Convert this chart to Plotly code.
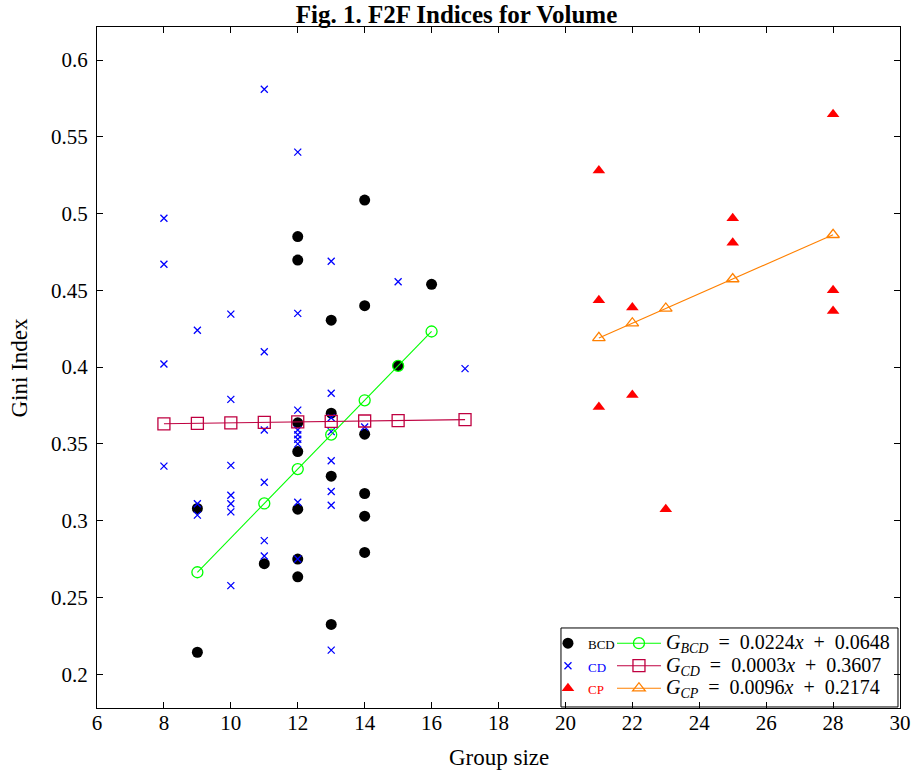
import plotly.graph_objects as go

# ---------------- data ----------------
bcd_x = [9, 9, 11, 12, 12, 12, 12, 12, 12, 12, 13, 13, 13, 13, 14, 14, 14, 14, 14, 14, 15, 16]
bcd_y = [0.308, 0.2143, 0.272, 0.485, 0.4697, 0.3637, 0.345, 0.3075, 0.275, 0.2634,
         0.4306, 0.370, 0.329, 0.2324, 0.5088, 0.440, 0.3563, 0.3177, 0.3029, 0.2793,
         0.4009, 0.4539]

cd_x = [8, 8, 8, 8, 9, 9, 9, 10, 10, 10, 10, 10, 10, 10,
        11, 11, 11, 11, 11, 11, 12, 12, 12, 12, 12, 12, 12, 12, 12,
        13, 13, 13, 13, 13, 13, 13, 13, 14, 15, 17]
cd_y = [0.497, 0.467, 0.402, 0.3355, 0.424, 0.311, 0.3036,
        0.4345, 0.379, 0.336, 0.3166, 0.311, 0.3057, 0.2577,
        0.581, 0.410, 0.359, 0.325, 0.287, 0.277,
        0.540, 0.435, 0.372, 0.359, 0.356, 0.353, 0.350, 0.312, 0.275,
        0.469, 0.383, 0.367, 0.358, 0.339, 0.319, 0.310, 0.2157,
        0.361, 0.4556, 0.399]

cp_x = [21, 21, 21, 22, 22, 23, 25, 25, 28, 28, 28]
cp_y = [0.528, 0.4436, 0.374, 0.4389, 0.3818, 0.3075, 0.497, 0.481, 0.5646, 0.450, 0.4365]

# fitted values
gbcd_x = [9, 11, 12, 13, 14, 15, 16]
gbcd_y = [0.2664, 0.3112, 0.3336, 0.356, 0.3784, 0.4008, 0.4232]
gcd_x = [8, 9, 10, 11, 12, 13, 14, 15, 17]
gcd_y = [0.3631, 0.3634, 0.3637, 0.364, 0.3643, 0.3646, 0.3649, 0.3652, 0.3658]
gcp_x = [21, 22, 23, 25, 28]
gcp_y = [0.419, 0.4286, 0.4382, 0.4574, 0.4862]

x_ticks = [6, 8, 10, 12, 14, 16, 18, 20, 22, 24, 26, 28, 30]
y_ticks = [0.2, 0.25, 0.3, 0.35, 0.4, 0.45, 0.5, 0.55, 0.6]
y_tick_labels = ["0.2", "0.25", "0.3", "0.35", "0.4", "0.45", "0.5", "0.55", "0.6"]

FONT = "Liberation Serif"
GREEN = "#00ff00"
PURPLE = "#bf0040"
ORANGE = "#ff8000"
S2 = "&nbsp;&nbsp;"


def eq_name(sub, slope, icpt):
    return (f'<span style="font-size:20px"><i>G</i><sub><i>{sub}</i></sub>'
            f'{S2}={S2}{slope}<i>x</i>{S2}+{S2}{icpt}</span>')


fig = go.Figure()

fig.add_trace(go.Scatter(
    x=bcd_x, y=bcd_y, mode="markers",
    name='<span style="font-size:13px">BCD</span>',
    marker=dict(symbol="circle", size=11, color="black"),
    legend="legend", legendrank=1))
fig.add_trace(go.Scatter(
    x=cd_x, y=cd_y, mode="markers",
    name='<span style="color:#0000ff;font-size:13px">CD</span>',
    marker=dict(symbol="x-thin", size=7, line=dict(color="#0000ff", width=1.3)),
    legend="legend", legendrank=2))
fig.add_trace(go.Scatter(
    x=cp_x, y=cp_y, mode="markers",
    name='<span style="color:#ff0000;font-size:13px">CP</span>',
    marker=dict(symbol="triangle-up", size=11, color="#ff0000"),
    legend="legend", legendrank=3))

fig.add_trace(go.Scatter(
    x=gbcd_x, y=gbcd_y, mode="lines+markers",
    name=eq_name("BCD", "0.0224", "0.0648"),
    line=dict(color=GREEN, width=1.1),
    marker=dict(symbol="circle-open", size=11, color=GREEN, line=dict(width=1.3)),
    legend="legend2", legendrank=1))
fig.add_trace(go.Scatter(
    x=gcd_x, y=gcd_y, mode="lines+markers",
    name=eq_name("CD", "0.0003", "0.3607"),
    line=dict(color=PURPLE, width=1.1),
    marker=dict(symbol="square-open", size=12, color=PURPLE, line=dict(width=1.3)),
    legend="legend2", legendrank=2))
fig.add_trace(go.Scatter(
    x=gcp_x, y=gcp_y, mode="lines+markers",
    name=eq_name("CP", "0.0096", "0.2174"),
    line=dict(color=ORANGE, width=1.1),
    marker=dict(symbol="triangle-up-open", size=11, color=ORANGE, line=dict(width=1.3)),
    legend="legend2", legendrank=3))

axis_common = dict(
    showline=True, linecolor="black", linewidth=1, mirror="ticks",
    ticks="inside", ticklen=6, tickcolor="black", tickwidth=1,
    showgrid=False, zeroline=False, automargin=False,
    tickfont=dict(family=FONT, size=21, color="black"),
)

fig.update_layout(
    width=913, height=771,
    margin=dict(l=97, r=13, t=27, b=63, autoexpand=False),
    paper_bgcolor="white", plot_bgcolor="white",
    font=dict(family=FONT, color="black"),
    title=dict(text="<b>Fig. 1. F2F Indices for Volume</b>",
               x=0.5, xanchor="center", y=0.993, yanchor="top",
               font=dict(family=FONT, size=25, color="black")),
    xaxis=dict(range=[6, 30], tickvals=x_ticks, ticklabelstandoff=-4, **axis_common),
    yaxis=dict(range=[0.178, 0.6215], tickvals=y_ticks, ticktext=y_tick_labels,
               ticklabelstandoff=4, **axis_common),
    annotations=[
        dict(text="Group size", xref="paper", yref="paper", x=0.5, y=-0.072,
             xanchor="center", yanchor="middle", showarrow=False,
             font=dict(family=FONT, size=23, color="black")),
        dict(text="Gini Index", xref="paper", yref="paper", x=-0.0959, y=0.5,
             xanchor="center", yanchor="middle", showarrow=False, textangle=-90,
             font=dict(family=FONT, size=23, color="black")),
    ],
    legend=dict(x=0.5616, y=0.119, xanchor="left", yanchor="top",
                bgcolor="rgba(0,0,0,0)", borderwidth=0,
                font=dict(family=FONT, size=15, color="black"),
                itemwidth=30, tracegroupgap=0),
    legend2=dict(x=0.6413, y=0.119, xanchor="left", yanchor="top",
                 bgcolor="rgba(0,0,0,0)", borderwidth=0,
                 font=dict(family=FONT, size=15, color="black"),
                 itemwidth=44, tracegroupgap=0),
    shapes=[dict(type="rect", xref="paper", yref="paper",
                 x0=0.5778, x1=0.9975, y0=0.0015, y1=0.1175,
                 line=dict(color="black", width=1), fillcolor="white", layer="below")],
    showlegend=True,
)

fig.write_html("out.html", config={"displayModeBar": False},
               post_script="document.body.style.margin='0px';")
